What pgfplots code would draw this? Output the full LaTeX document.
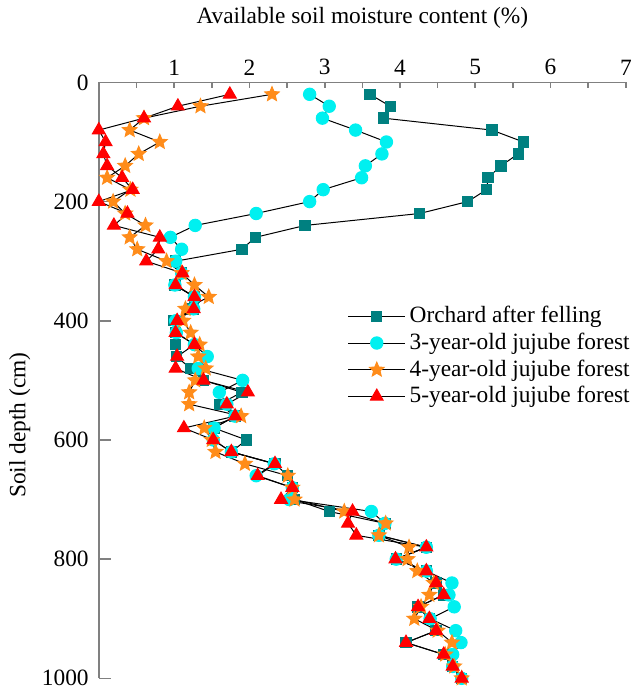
\documentclass[border=0pt]{standalone}
\usepackage{fontspec}
\setmainfont{Liberation Serif}
\usepackage{pgfplots}
\usepackage{pgfplotstable}
\pgfplotsset{compat=1.18}

\definecolor{orch}{RGB}{0,128,128}
\definecolor{cy}{RGB}{0,240,240}
\definecolor{orng}{RGB}{255,140,26}
\definecolor{rd}{RGB}{255,0,0}

% filled five-pointed star
\pgfdeclareplotmark{fstar}{%
  \pgfpathmoveto{\pgfpointpolar{90}{\pgfplotmarksize}}%
  \pgfpathlineto{\pgfpointpolar{126}{0.45\pgfplotmarksize}}%
  \pgfpathlineto{\pgfpointpolar{162}{\pgfplotmarksize}}%
  \pgfpathlineto{\pgfpointpolar{198}{0.45\pgfplotmarksize}}%
  \pgfpathlineto{\pgfpointpolar{234}{\pgfplotmarksize}}%
  \pgfpathlineto{\pgfpointpolar{270}{0.45\pgfplotmarksize}}%
  \pgfpathlineto{\pgfpointpolar{306}{\pgfplotmarksize}}%
  \pgfpathlineto{\pgfpointpolar{342}{0.45\pgfplotmarksize}}%
  \pgfpathlineto{\pgfpointpolar{18}{\pgfplotmarksize}}%
  \pgfpathlineto{\pgfpointpolar{54}{0.45\pgfplotmarksize}}%
  \pgfpathclose\pgfusepathqfillstroke}

% depth (cm), available soil moisture content (%)
\pgfplotstableread{
depth orchard y3 y4 y5
20   3.60 2.80 2.30 1.74
40   3.87 3.06 1.35 1.05
60   3.78 2.97 0.60 0.60
80   5.22 3.41 0.41 0.00
100  5.64 3.82 0.81 0.09
120  5.57 3.76 0.53 0.06
140  5.34 3.54 0.35 0.11
160  5.17 3.49 0.11 0.31
180  5.15 2.98 0.42 0.45
200  4.90 2.80 0.19 0.00
220  4.26 2.09 0.35 0.38
240  2.74 1.28 0.62 0.20
260  2.08 0.95 0.41 0.81
280  1.90 1.10 0.51 0.79
300  1.02 1.02 0.90 0.63
320  1.10 1.10 1.10 1.11
340  1.01 1.01 1.27 1.02
360  1.27 1.27 1.46 1.27
380  1.25 1.26 1.15 1.26
400  1.00 1.02 1.12 1.04
420  1.02 1.03 1.22 1.02
440  1.02 1.27 1.34 1.27
460  1.03 1.44 1.32 1.04
480  1.22 1.32 1.42 1.02
500  1.39 1.91 1.28 1.39
520  1.90 1.60 1.20 1.98
540  1.60 1.70 1.20 1.70
560  1.81 1.81 1.89 1.81
580  1.53 1.53 1.40 1.13
600  1.96 1.52 1.50 1.52
620  1.76 1.76 1.55 1.76
640  2.34 2.33 1.94 2.34
660  2.51 2.09 2.51 2.11
680  2.57 2.57 2.57 2.57
700  2.60 2.53 2.60 2.42
720  3.06 3.62 3.26 3.37
740  3.80 3.80 3.81 3.31
760  3.72 3.72 3.72 3.42
780  4.35 4.35 4.12 4.35
800  3.95 3.95 4.10 3.94
820  4.35 4.35 4.23 4.35
840  4.48 4.69 4.45 4.48
860  4.58 4.65 4.39 4.58
880  4.24 4.72 4.28 4.24
900  4.39 4.40 4.19 4.39
920  4.48 4.74 4.50 4.48
940  4.08 4.81 4.69 4.08
960  4.58 4.70 4.60 4.58
980  4.70 4.70 4.72 4.70
1000 4.82 4.82 4.82 4.82
}\moisture

\begin{document}
\fontsize{11.7}{14}\selectfont
\begin{tikzpicture}
\begin{axis}[
    scale only axis,
    width=264pt,
    height=298.5pt,
    xmin=0, xmax=7,
    ymin=0, ymax=1000,
    y dir=reverse,
    axis x line*=top,
    axis y line*=left,
    axis line style={gray, line width=0.8pt, -},
    xtick={1,2,...,7},
    minor xtick={0.5,1.5,...,6.5},
    ytick={0,200,...,1000},
    tick align=inside,
    tick style={gray, line width=0.8pt},
    major tick length=6pt,
    minor tick length=3pt,
    xtick style={/pgfplots/major tick length=3pt},
    xticklabel style={yshift=-0.5pt},
    yticklabel style={xshift=-1pt},
    /pgf/number format/assume math mode=true,
    /pgf/number format/1000 sep={},
    ticklabel style={font=\fontsize{11.7}{14}\selectfont},
    label style={font=\fontsize{11.7}{14}\selectfont},
    xlabel={Available soil moisture content (\%)},
    ylabel={Soil depth (cm)},
    every axis x label/.style={at={(axis description cs:0.5,1.098)}, anchor=base},
    every axis y label/.style={at={(axis description cs:-0.129,0.425)}, rotate=90, anchor=south, inner sep=0pt},
    legend style={draw=none, fill=none, at={(axis description cs:0.468,0.635)}, anchor=north west,
        font=\fontsize{11.7}{14}\selectfont, row sep=-0.6pt, inner sep=1pt, overlay},
    legend cell align=left,
    legend image code/.code={%
        \draw[mark repeat=2, mark phase=2, #1] plot coordinates {(0cm,0cm) (0.5cm,0cm) (1.0cm,0cm)};},
    every axis plot/.append style={black, line width=0.5pt},
    clip=false,
]
\addplot[mark=square*, mark size=2.6pt, mark options={fill=orch, draw=orch}]
    table[x=orchard, y=depth] {\moisture};
\addlegendentry{Orchard after felling}
\addplot[mark=*, mark size=3.1pt, mark options={fill=cy, draw=cy}]
    table[x=y3, y=depth] {\moisture};
\addlegendentry{3-year-old jujube forest}
\addplot[mark=fstar, mark size=3.8pt, mark options={fill=orng, draw=orng}]
    table[x=y4, y=depth] {\moisture};
\addlegendentry{4-year-old jujube forest}
\addplot[mark=triangle*, mark size=3.7pt, mark options={fill=rd, draw=rd}]
    table[x=y5, y=depth] {\moisture};
\addlegendentry{5-year-old jujube forest}
% white margin left of the depth label, as in the reference
\path (axis description cs:-0.1875,0.5);
\end{axis}
\end{tikzpicture}
\end{document}
